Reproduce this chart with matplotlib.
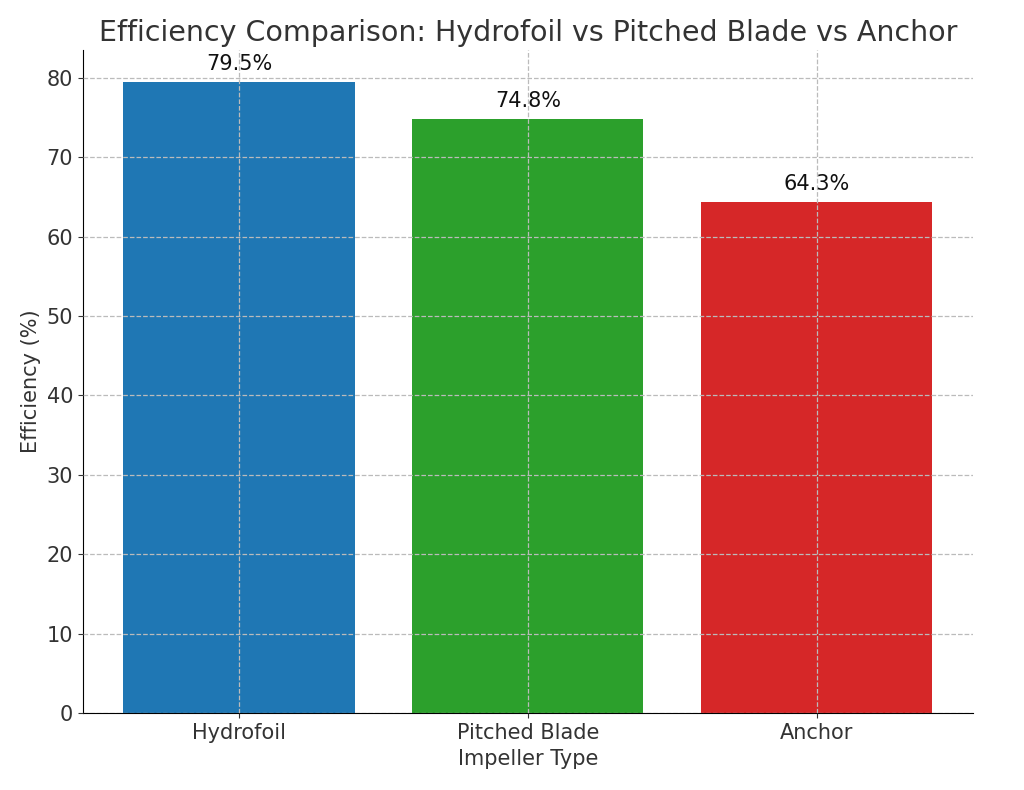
import matplotlib
matplotlib.use("Agg")
import matplotlib.pyplot as plt

categories = ["Hydrofoil", "Pitched Blade", "Anchor"]
values = [79.5, 74.8, 64.3]
colors = ["#1f77b4", "#2ca02c", "#d62728"]

fig = plt.figure(figsize=(10.24, 7.9), dpi=100)
ax = fig.add_axes([0.081, 0.097, 0.869, 0.84])
bars = ax.bar(categories, values, color=colors, width=0.8, zorder=2)
for b, v in zip(bars, values):
    ax.text(b.get_x() + b.get_width() / 2, v + 1, f"{v}%", ha="center", va="bottom",
            fontsize=15, color="#111111", zorder=3)
ax.set_ylim(0, 83.5)
ax.grid(True, linestyle="--", color="#bbbbbb", linewidth=0.9, zorder=3)
ax.set_axisbelow(False)
for s in ["top", "right"]:
    ax.spines[s].set_visible(False)
ax.tick_params(labelsize=15, colors="#333333")
ax.set_xlabel("Impeller Type", fontsize=15, color="#333333")
ax.set_ylabel("Efficiency (%)", fontsize=15, color="#333333")
ax.set_title("Efficiency Comparison: Hydrofoil vs Pitched Blade vs Anchor", fontsize=20.5,
             color="#333333", pad=6)
fig.savefig("out.png", dpi=100)
